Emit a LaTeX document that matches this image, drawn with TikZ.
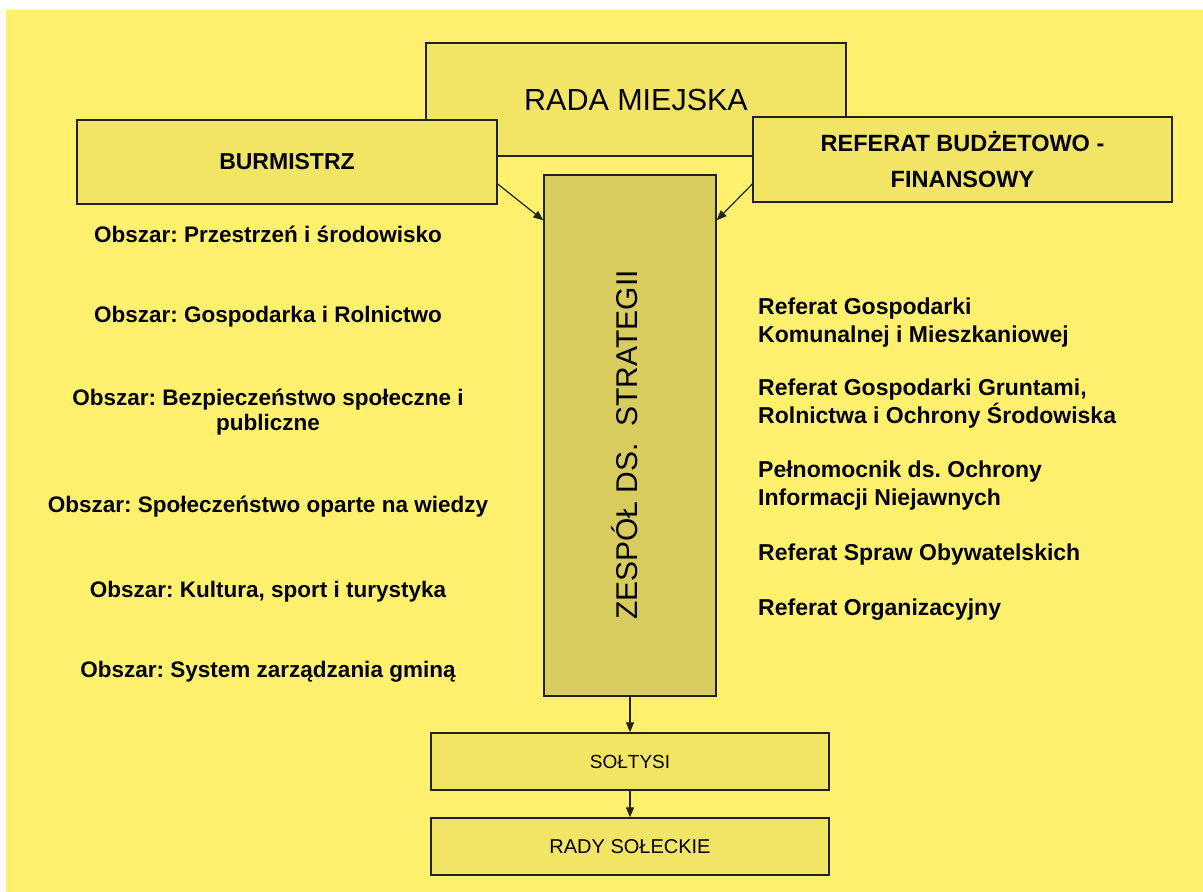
\documentclass[tikz,border=0pt]{standalone}
\usepackage{fontspec}
\setmainfont{Liberation Sans}
\usetikzlibrary{arrows.meta}
\definecolor{bgyellow}{RGB}{255,240,110}
\definecolor{boxyellow}{RGB}{242,228,100}
\definecolor{olivebox}{RGB}{216,204,94}
\definecolor{edgeline}{RGB}{35,35,30}
\frenchspacing

\begin{document}
\begin{tikzpicture}[x=1pt,y=-1pt,
  box/.style={draw=edgeline, line width=1.4pt, fill=boxyellow, rectangle,
              inner sep=0pt, align=center},
  link/.style={draw=edgeline, line width=1.2pt, -{Triangle[length=10pt,width=8pt]}},
  area/.style={font=\bfseries\fontsize{22.5}{25}\selectfont, align=center, inner sep=0pt},
  unit/.style={font=\bfseries\fontsize{23}{28}\selectfont, align=left, anchor=west, inner sep=0pt}]

% page and background
\useasboundingbox (0,0) rectangle (1203,892);
\fill[white] (0,0) rectangle (1203,892);
\fill[bgyellow] (6,10) rectangle (1203,892);

% top level
\node[box, minimum width=420pt, minimum height=113pt,
      font=\fontsize{30.5}{34}\selectfont] (rada) at (636,99.5) {RADA MIEJSKA};
\node[box, minimum width=420pt, minimum height=84pt,
      font=\bfseries\fontsize{23}{28}\selectfont] (burm) at (287,162) {BURMISTRZ};
\node[box, minimum width=419pt, minimum height=85pt,
      font=\bfseries\fontsize{23.5}{36}\selectfont] (ref) at (962.5,159.5)
      {REFERAT BUDŻETOWO -\\FINANSOWY};

% strategy team
\node[box, fill=olivebox, minimum width=172pt, minimum height=521pt] (zesp) at (630,435.5) {};
\node[rotate=90, inner sep=0pt, font=\fontsize{30}{34}\selectfont] (zespText) at (625,445)
      {ZESPÓŁ DS.~~STRATEGII};

% lower levels
\node[box, minimum width=398pt, minimum height=57pt,
      font=\fontsize{19}{22}\selectfont] (solt) at (630,761.5) {SOŁTYSI};
\node[box, minimum width=398pt, minimum height=57pt,
      font=\fontsize{20}{24}\selectfont] (rady) at (630,846.5) {RADY SOŁECKIE};

% areas
\node[area] (a1) at (268,234) {Obszar: Przestrzeń i środowisko};
\node[area] (a2) at (268,317) {Obszar: Gospodarka i Rolnictwo};
\node[area] (a3) at (268,412.5) {Obszar: Bezpieczeństwo społeczne i\\publiczne};
\node[area] (a4) at (268,507) {Obszar: Społeczeństwo oparte na wiedzy};
\node[area] (a5) at (268,592) {Obszar: Kultura, sport i turystyka};
\node[area] (a6) at (268,672) {Obszar: System zarządzania gminą};

% units
\node[unit] (u1) at (758,322.5) {Referat Gospodarki\\Komunalnej i Mieszkaniowej};
\node[unit] (u2) at (758,403.5) {Referat Gospodarki Gruntami,\\Rolnictwa i Ochrony Środowiska};
\node[unit] (u3) at (758,486) {Pełnomocnik ds. Ochrony\\Informacji Niejawnych};
\node[unit] (u4) at (758,555) {Referat Spraw Obywatelskich};
\node[unit] (u5) at (758,610) {Referat Organizacyjny};

% connectors
\draw[link] ([yshift=-22pt]burm.east) -- ([yshift=-46pt]zesp.north west);
\draw[link] ([yshift=-24.5pt]ref.west) -- ([yshift=-46pt]zesp.north east);
\draw[link] (zesp.south) -- (solt.north);
\draw[link] (solt.south) -- (rady.north);
\end{tikzpicture}
\end{document}
